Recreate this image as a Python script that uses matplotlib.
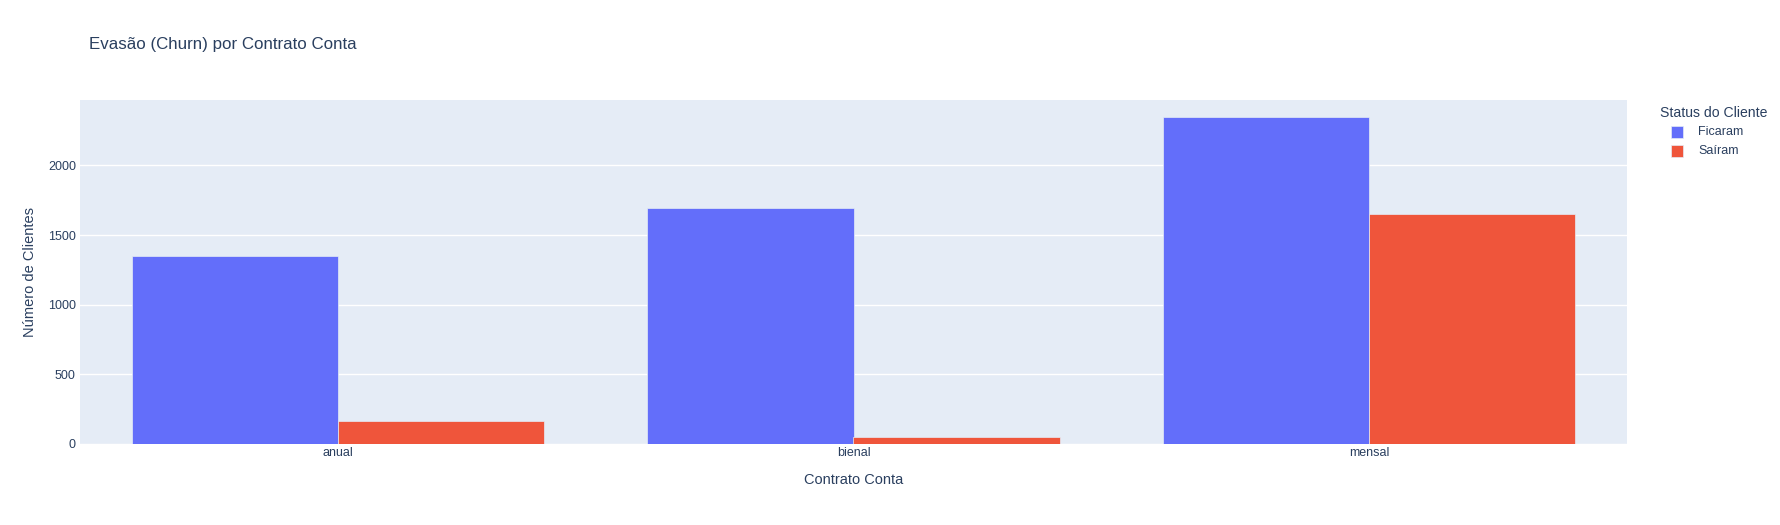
import matplotlib
matplotlib.use("Agg")
import matplotlib.pyplot as plt
from matplotlib.patches import Rectangle

# data
contratos = ["anual", "bienal", "mensal"]
ficaram = [1349, 1694, 2350]
sairam = [166, 48, 1655]
status = ["Ficaram", "Saíram"]

azul = "#636efa"
vermelho = "#EF553B"
texto = "#2a3f5f"
fundo = "#E5ECF6"

plt.rcParams["font.family"] = ["Liberation Sans", "DejaVu Sans"]

W, H = 1781, 525
fig = plt.figure(figsize=(W / 100, H / 100), dpi=100)

# plot area in pixels: left 80, right 1627, top 100, bottom 444
ax = fig.add_axes([80 / W, (H - 444) / H, 1547 / W, 344 / H])
ax.set_facecolor(fundo)

x = list(range(len(contratos)))
largura = 0.4
ax.bar([i - largura / 2 for i in x], ficaram, width=largura, color=azul,
       edgecolor=fundo, linewidth=0.5, zorder=3)
ax.bar([i + largura / 2 for i in x], sairam, width=largura, color=vermelho,
       edgecolor=fundo, linewidth=0.5, zorder=3)

ax.set_xlim(-0.5, 2.5)
ax.set_ylim(0, 2470)
ax.set_xticks(x)
ax.set_xticklabels(contratos)
ax.set_yticks([0, 500, 1000, 1500, 2000])
ax.yaxis.grid(True, color="white", linewidth=1, zorder=0)
ax.set_axisbelow(True)
for s in ax.spines.values():
    s.set_visible(False)
ax.tick_params(length=0, labelsize=9, colors=texto, pad=2)
ax.tick_params(axis="y", pad=3)

ax.set_xlabel("Contrato Conta", fontsize=10.5, color=texto, labelpad=10)
ax.set_ylabel("Número de Clientes", fontsize=10.5, color=texto, labelpad=8)

fig.text(89 / W, 1 - 45 / H, "Evasão (Churn) por Contrato Conta",
         fontsize=12.2, color=texto, va="center", ha="left")

# legend on the right, drawn by hand to match the plotly layout
fig.text(1660 / W, 1 - 113 / H, "Status do Cliente", fontsize=10.1,
         color=texto, va="center", ha="left")
cores = [azul, vermelho]
for k, (nome, cor) in enumerate(zip(status, cores)):
    yc = 132 + k * 19
    fig.patches.append(Rectangle((1671 / W, 1 - (yc + 6) / H), 12 / W, 12 / H,
                                 transform=fig.transFigure, facecolor=cor,
                                 edgecolor=fundo, linewidth=0.5))
    fig.text(1698 / W, 1 - yc / H, nome, fontsize=9, color=texto,
             va="center", ha="left")

fig.savefig("out.png", dpi=100)
